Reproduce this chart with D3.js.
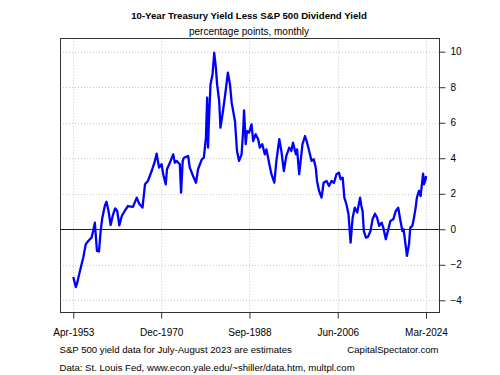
<!DOCTYPE html>
<html>
<head>
<meta charset="utf-8">
<script src="https://cdn.jsdelivr.net/npm/d3@7"></script>
<style>
  body { margin: 0; background: #fff; }
  svg text { font-family: "Liberation Sans", Arial, sans-serif; fill: #000; }
</style>
</head>
<body>
<svg id="chart" width="500" height="375"></svg>
<script>
// monthly readings of the spread, percentage points
var months = ["1953-04","1953-10","1954-01","1954-08","1955-04","1955-10","1956-04","1956-12","1957-04","1957-08",
  "1958-01","1958-06","1958-10","1959-02","1959-08","1959-12","1960-05","1960-10","1961-03","1961-09",
  "1962-02","1962-07","1963-01","1963-08","1964-04","1965-04","1966-01","1966-07","1967-03","1967-09",
  "1968-04","1969-01","1969-09","1970-01","1970-07","1971-01","1971-05","1971-11","1972-02","1972-09",
  "1973-05","1973-09","1974-01","1974-09","1974-12","1975-04","1975-07","1976-05","1976-09","1977-05",
  "1977-12","1978-05","1979-02","1979-07","1979-12","1980-03","1980-05","1980-07","1980-11","1981-04",
  "1981-08","1981-12","1982-03","1982-08","1982-11","1983-04","1983-10","1984-05","1984-10","1985-02",
  "1985-10","1986-03","1986-08","1987-02","1987-06","1987-08","1987-12","1988-03","1988-08","1989-02",
  "1989-06","1989-12","1990-06","1990-10","1991-04","1991-10","1992-02","1992-09","1993-02","1993-09",
  "1994-02","1994-09","1995-02","1995-08","1996-02","1996-09","1997-02","1997-06","1998-01","1998-04",
  "1998-09","1999-05","1999-11","2000-03","2000-09","2001-03","2001-08","2002-01","2002-04","2002-09",
  "2003-03","2003-08","2004-03","2004-09","2005-03","2005-09","2006-03","2006-09","2007-01","2007-06",
  "2007-10","2008-03","2008-08","2009-01","2009-06","2009-11","2010-05","2010-12","2011-03","2011-06",
  "2011-09","2012-02","2012-07","2013-01","2013-06","2013-12","2014-05","2014-10","2015-04","2015-08",
  "2016-02","2016-08","2017-01","2017-08","2018-02","2018-08","2018-12","2019-06","2019-09","2020-02",
  "2020-05","2020-10","2021-01","2021-06","2021-10","2022-02","2022-05","2022-10","2023-02","2023-06",
  "2023-08","2023-10","2024-02","2024-03"];
var spread = [-2.69,-3.25,-3.06,-2.35,-1.6,-0.85,-0.66,-0.47,-0.1,0.37,
  -1.22,-1.25,-0.1,0.65,1.31,1.55,1.03,0.24,0.75,1.18,
  1.03,0.22,0.75,1.03,1.31,1.26,1.78,1.44,1.22,2.53,
  2.72,3.28,3.85,4.26,3.47,3.66,3.10,2.53,3.38,3.75,
  4.22,3.75,3.85,3.66,2.06,3.85,4.03,4.13,3.47,3.0,
  2.62,3.38,3.94,4.03,5.16,7.41,4.6,5.91,8.16,8.73,
  9.94,9.1,8.16,7.22,5.72,6.47,7.5,8.82,8.16,7.13,
  6.1,4.41,3.85,4.22,5.63,6.70,4.79,5.53,5.44,5.91,
  4.97,5.35,5.07,4.6,4.79,4.22,4.5,3.66,3.10,2.62,
  3.85,5.07,4.41,3.28,4.13,4.6,4.41,4.88,4.22,4.5,
  3.10,4.79,5.25,4.97,4.41,3.85,3.94,3.47,2.72,2.16,
  1.78,2.62,2.72,2.44,2.72,2.62,3.10,3.19,2.82,2.91,
  1.78,1.41,0.84,-0.75,0.65,1.22,0.94,1.78,1.31,1.03,
  -0.1,-0.47,-0.43,-0.1,0.56,0.88,0.65,0.19,0.37,0.09,
  -0.56,0,0.47,0.56,1.03,1.22,0.65,-0.1,0,-0.94,
  -1.5,-0.84,0.09,0.19,0.65,1.22,1.78,2.16,1.87,2.72,
  3.13,2.53,2.82,3.0];

var tickMonths = ["1953-04","1970-12","1988-09","2006-06","2024-03"];
var tickLabels = ["Apr-1953","Dec-1970","Sep-1988","Jun-2006","Mar-2024"];
var yTicks = [-4,-2,0,2,4,6,8,10];

var title = "10-Year Treasury Yield Less S&P 500 Dividend Yield";
var subtitle = "percentage points, monthly";
var note1 = "S&P 500 yield data for July-August 2023 are estimates";
var note2 = "Data: St. Louis Fed, www.econ.yale.edu/~shiller/data.htm, multpl.com";
var brand = "CapitalSpectator.com";

var parseMonth = d3.timeParse("%Y-%m");
var data = months.map(function(m, i) { return {date: parseMonth(m), value: spread[i]}; });

var box = {left: 60, right: 439, top: 38.5, bottom: 312.5};

var x = d3.scaleTime()
  .domain([parseMonth(tickMonths[0]), parseMonth(tickMonths[tickMonths.length - 1])])
  .range([73.3, 426]);
var y = d3.scaleLinear().domain([-4, 10]).range([300.3, 51.7]);

var svg = d3.select("#chart");

// grid
var grid = svg.append("g").attr("class", "grid");
grid.selectAll("line.vgrid")
  .data(tickMonths)
  .join("line")
  .classed("vgrid", true)
  .attr("x1", d => Math.round(x(parseMonth(d))) + 0.5)
  .attr("x2", d => Math.round(x(parseMonth(d))) + 0.5)
  .attr("y1", box.top)
  .attr("y2", box.bottom)
  .style("stroke", "#c8c8c8")
  .style("stroke-dasharray", "1,2");
grid.selectAll("line.hgrid")
  .data(yTicks.filter(d => d != 0))
  .join("line")
  .classed("hgrid", true)
  .attr("x1", box.left)
  .attr("x2", box.right)
  .attr("y1", d => Math.round(y(d)) + 0.5)
  .attr("y2", d => Math.round(y(d)) + 0.5)
  .style("stroke", "#c8c8c8")
  .style("stroke-dasharray", "1,2");

// zero line
svg.append("line")
  .attr("x1", box.left).attr("x2", box.right)
  .attr("y1", Math.round(y(0)) + 0.5).attr("y2", Math.round(y(0)) + 0.5)
  .style("stroke", "#222")
  .style("stroke-width", 1);

// series
var line = d3.line().x(d => x(d.date)).y(d => y(d.value));
svg.append("path")
  .datum(data)
  .attr("d", line)
  .style("fill", "none")
  .style("stroke", "#0000ff")
  .style("stroke-width", 2.3)
  .style("stroke-linejoin", "round");

// box
svg.append("rect")
  .attr("x", box.left + 0.5).attr("y", box.top)
  .attr("width", box.right - box.left).attr("height", box.bottom - box.top)
  .style("fill", "none")
  .style("stroke", "#333");

// right axis
var yAxis = d3.axisRight(y).tickValues(yTicks).tickSize(6).tickPadding(5).tickFormat(d3.format("d"));
var gy = svg.append("g").attr("transform", "translate(" + (box.right + 0.5) + ",0)").call(yAxis);
gy.select(".domain").attr("d", "M0," + y(-4) + "V" + y(10)).style("stroke", "#333");
gy.selectAll("line").style("stroke", "#333");
gy.selectAll("text").style("font-size", "10px").style("font-family", "Liberation Sans, Arial, sans-serif");

// bottom axis
var xAxis = d3.axisBottom(x)
  .tickValues(tickMonths.map(parseMonth))
  .tickFormat((d, i) => tickLabels[i])
  .tickSize(6).tickPadding(10);
var gx = svg.append("g").attr("transform", "translate(0," + box.bottom + ")").call(xAxis);
gx.select(".domain").attr("d", "M" + x(parseMonth(tickMonths[0])) + ",0H" + x(parseMonth(tickMonths[4])))
  .style("stroke", "#333");
gx.selectAll("line").style("stroke", "#333");
gx.selectAll("text").style("font-size", "10px").style("font-family", "Liberation Sans, Arial, sans-serif");

// texts
svg.append("text").attr("x", 249).attr("y", 19).attr("text-anchor", "middle")
  .style("font-size", "9.6px").style("font-weight", "bold").text(title);
svg.append("text").attr("x", 249).attr("y", 34.5).attr("text-anchor", "middle")
  .style("font-size", "10px").text(subtitle);
svg.append("text").attr("x", 59.5).attr("y", 352.5)
  .style("font-size", "9.6px").text(note1);
svg.append("text").attr("x", 438.5).attr("y", 352.5).attr("text-anchor", "end")
  .style("font-size", "9.6px").text(brand);
svg.append("text").attr("x", 59.5).attr("y", 370.5)
  .style("font-size", "9.6px").text(note2);
</script>
</body>
</html>
